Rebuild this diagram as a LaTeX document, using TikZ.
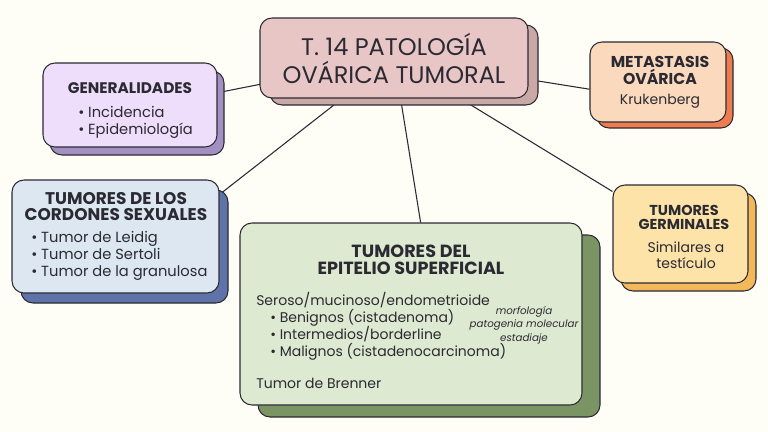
\documentclass[tikz,border=0pt]{standalone}
\usepackage{fontspec}
\setmainfont{Poppins}
\usetikzlibrary{shadows}
\definecolor{paper}{HTML}{FEFEF6}
\definecolor{ink}{HTML}{2B2A33}
\definecolor{roseF}{HTML}{E9C6C6}
\definecolor{roseS}{HTML}{C9A8A5}
\definecolor{lilacF}{HTML}{EFDEFB}
\definecolor{lilacS}{HTML}{A390C2}
\definecolor{peachF}{HTML}{FBD9BC}
\definecolor{peachS}{HTML}{EE7C4F}
\definecolor{skyF}{HTML}{DCE7F1}
\definecolor{skyS}{HTML}{5F73A8}
\definecolor{sandF}{HTML}{FDE3A7}
\definecolor{sandS}{HTML}{F2B85A}
\definecolor{sageF}{HTML}{DDE9D0}
\definecolor{sageS}{HTML}{7B9463}
\pgfdeclarelayer{paperlayer}
\pgfdeclarelayer{linklayer}
\pgfsetlayers{paperlayer,linklayer,main}
\tikzset{
  card/.style={draw=ink, line width=.8pt, rounded corners=9pt, inner sep=0pt},
  lift/.style n args={3}{general shadow={fill=#1, draw=ink, line width=.8pt, shadow xshift=#2, shadow yshift=#3}},
  headtxt/.style={text=ink, font=\bfseries\fontsize{11.5}{11.25}\selectfont, align=center, inner sep=0pt},
  bigheadtxt/.style={headtxt, font=\bfseries\fontsize{12.7}{12}\selectfont},
  bodytxt/.style={text=ink, font=\fontsize{11}{12.75}\selectfont, align=left, inner sep=0pt},
  notetxt/.style={text=ink, font=\itshape\fontsize{7.7}{10}\selectfont, align=center, inner sep=0pt},
  link/.style={draw=ink, line width=.8pt},
}
\begin{document}
\begin{tikzpicture}[x=.75pt,y=-.75pt]
\useasboundingbox (0,0) rectangle (768,432);
\begin{pgfonlayer}{paperlayer}
\fill[paper] (0,0) rectangle (768,432);
\end{pgfonlayer}
\node[card, fill=roseF, lift={roseS}{7.5pt}{-5.25pt}, minimum width=201pt, minimum height=60pt, align=center, text=ink, font=\fontsize{18}{21}\selectfont] (title) at (394,58) {T. 14 PATOLOGÍA\\OVÁRICA TUMORAL};
\node[card, fill=lilacF, lift={lilacS}{5.25pt}{-6pt}, minimum width=130.5pt, minimum height=63pt] (gen) at (130,105) {};
\node[card, fill=peachF, lift={peachS}{5.25pt}{-4.5pt}, minimum width=102pt, minimum height=60pt] (meta) at (658,82) {};
\node[card, fill=skyF, lift={skyS}{6.75pt}{-7.5pt}, minimum width=155.25pt, minimum height=84.75pt] (cord) at (115.5,236.5) {};
\node[card, fill=sandF, lift={sandS}{6pt}{-6pt}, minimum width=101.25pt, minimum height=73.5pt] (germ) at (680.5,234) {};
\node[card, fill=sageF, lift={sageS}{13.5pt}{-9pt}, minimum width=256.5pt, minimum height=136.5pt] (epi) at (411,314) {};
\node[headtxt] (genhead) at (130,88) {GENERALIDADES};
\node[bodytxt, anchor=west] (genlist) at (78,122) {• Incidencia\\• Epidemiología};
\node[headtxt, font=\bfseries\fontsize{11.8}{11.5}\selectfont] (metahead) at (660,70.5) {METASTASIS\\OVÁRICA};
\node[bodytxt, font=\fontsize{10.5}{12}\selectfont] (metatext) at (660,101) {Krukenberg};
\node[bigheadtxt] (cordhead) at (116,207) {TUMORES DE LOS\\CORDONES SEXUALES};
\node[bodytxt, anchor=west] (cordlist) at (31,256) {• Tumor de Leidig\\• Tumor de Sertoli\\• Tumor de la granulosa};
\node[headtxt, font=\bfseries\fontsize{10.8}{10.5}\selectfont] (germhead) at (684,217) {TUMORES\\GERMINALES};
\node[bodytxt, align=center, font=\fontsize{10.5}{12}\selectfont] (germtext) at (686,255) {Similares a\\testículo};
\node[bigheadtxt, font=\bfseries\fontsize{13.2}{12.75}\selectfont] (epihead) at (411,260) {TUMORES DEL\\EPITELIO SUPERFICIAL};
\node[bodytxt, anchor=west, font=\fontsize{10.5}{12.75}\selectfont] (epitype) at (256,300) {Seroso/mucinoso/endometrioide};
\node[bodytxt, anchor=west, font=\fontsize{10.5}{12.75}\selectfont] (epilist) at (270,335) {• Benignos (cistadenoma)\\• Intermedios/borderline\\• Malignos (cistadenocarcinoma)};
\node[notetxt] (epinote) at (524,325) {morfología\\patogenia molecular\\estadiaje};
\node[bodytxt, anchor=west, font=\fontsize{10.5}{12.75}\selectfont] (epibrenner) at (256,383) {Tumor de Brenner};
\begin{pgfonlayer}{linklayer}
\draw[link] (title.center) -- (gen.8);
\draw[link] (title.center) -- (cord.22);
\draw[link] (title.center) -- (epi.84);
\draw[link] (title.center) -- (germ.148);
\draw[link] (title.center) -- (meta.186);
\end{pgfonlayer}
\end{tikzpicture}
\end{document}
